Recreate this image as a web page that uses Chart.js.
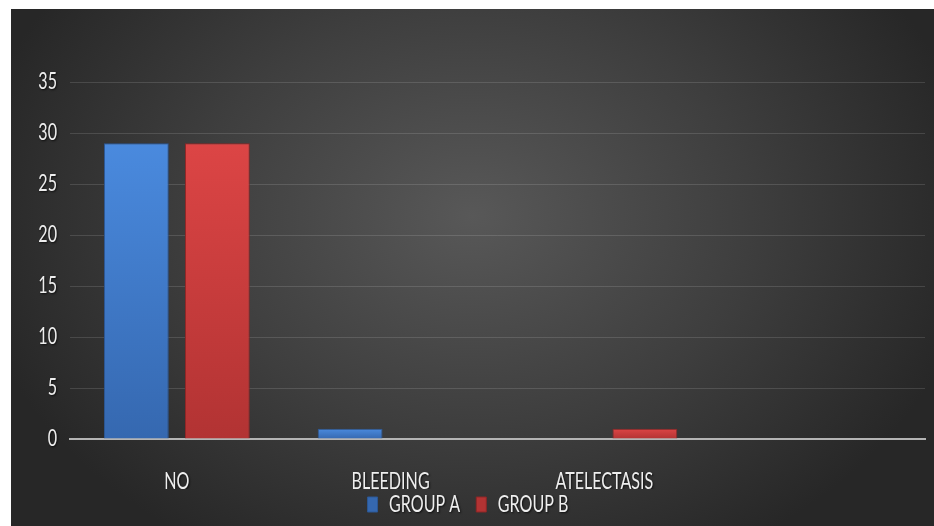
<!DOCTYPE html>
<html>
<head>
<meta charset="utf-8">
<script src="https://cdn.jsdelivr.net/npm/chart.js@4/dist/chart.umd.min.js"></script>
<style>
  html, body { margin: 0; padding: 0; background: #fff; }
  #wrap {
    position: absolute; left: 11px; top: 9px; width: 923px; height: 517px;
    background: radial-gradient(ellipse 55% 75% at 50% 40%, #585858 0%, #3e3e3e 55%, #272727 100%);
  }
  canvas { display: block; }
</style>
</head>
<body>
<div id="wrap"><canvas id="chart" width="923" height="517"></canvas></div>
<script>
const categories = ['NO', 'BLEEDING', 'ATELECTASIS', ''];
const groupA = [29, 1, 0, null];
const groupB = [29, 0, 1, null];
const yTicks = [0, 5, 10, 15, 20, 25, 30, 35];

const font = "Lato, 'Open Sans', sans-serif";
const squeeze = 0.7; // the original text is tall and narrow

const canvas = document.querySelector('#chart');
const c2d = canvas.getContext('2d');

// squeeze all text horizontally around its anchor, with a soft dark shadow
const origFill = c2d.fillText.bind(c2d);
const origMeasure = c2d.measureText.bind(c2d);
c2d.fillText = function (text, x, y, maxWidth) {
    this.save();
    this.translate(x, y);
    this.scale(squeeze, 1);
    this.shadowColor = 'rgba(0,0,0,0.7)';
    this.shadowOffsetX = 1;
    this.shadowOffsetY = 1;
    this.shadowBlur = 2;
    origFill(text, 0, 0);
    this.restore();
};
c2d.measureText = function (text) {
    const m = origMeasure(text);
    return {
        width: m.width * squeeze,
        actualBoundingBoxAscent: m.actualBoundingBoxAscent,
        actualBoundingBoxDescent: m.actualBoundingBoxDescent,
        actualBoundingBoxLeft: m.actualBoundingBoxLeft * squeeze,
        actualBoundingBoxRight: m.actualBoundingBoxRight * squeeze
    };
};

// vertical shading for each bar, from its top down to the axis
function barFill(top, bottom) {
    return ctx => {
        const chart = ctx.chart;
        if (!chart.chartArea || ctx.raw == null) return top;
        const y = chart.scales.y;
        const y0 = y.getPixelForValue(ctx.raw);
        const y1 = y.getPixelForValue(0);
        if (y1 - y0 < 1) return top;
        const g = chart.ctx.createLinearGradient(0, y0, 0, y1);
        g.addColorStop(0, top);
        g.addColorStop(1, bottom);
        return g;
    };
}

new Chart(c2d, {
    type: 'bar',
    data: {
        labels: categories,
        datasets: [
            {
                label: 'GROUP A',
                data: groupA,
                backgroundColor: barFill('#4a8ade', '#3568b0'),
                borderColor: '#2c5896',
                borderWidth: ctx => (ctx.raw ? 1 : 0),
                categoryPercentage: 0.758,
                barPercentage: 0.8
            },
            {
                label: 'GROUP B',
                data: groupB,
                backgroundColor: barFill('#dc4545', '#b23333'),
                borderColor: '#8e2626',
                borderWidth: ctx => (ctx.raw ? 1 : 0),
                categoryPercentage: 0.758,
                barPercentage: 0.8
            }
        ]
    },
    options: {
        responsive: false,
        animation: false,
        layout: { padding: { top: 73, right: 9, bottom: 0, left: 0 } },
        scales: {
            x: {
                grid: { display: false, drawTicks: false },
                border: { color: '#b4b4b4', width: 2 },
                ticks: {
                    color: '#eeeeee',
                    font: { family: font, size: 23 },
                    padding: 29,
                    maxRotation: 0
                },
                afterFit: s => { s.height = 50; }
            },
            y: {
                min: 0,
                max: 35,
                afterBuildTicks: s => { s.ticks = yTicks.map(v => ({ value: v })); },
                grid: { color: 'rgba(255,255,255,0.13)', lineWidth: 1, drawTicks: false },
                border: { display: false },
                ticks: {
                    color: '#eeeeee',
                    font: { family: font, size: 23 },
                    padding: 13
                },
                afterFit: s => { s.width = 59; }
            }
        },
        plugins: {
            legend: {
                position: 'bottom',
                labels: {
                    color: '#eeeeee',
                    font: { family: font, size: 23 },
                    boxWidth: 10,
                    boxHeight: 15,
                    padding: 4,
                    // a wider gap after the first entry, as in the original
                    generateLabels: chart => {
                        const items = Chart.defaults.plugins.legend.labels.generateLabels(chart);
                        items[0].text = items[0].text + '\u2003';
                        return items;
                    }
                }
            },
            tooltip: { enabled: false }
        }
    }
});
</script>
</body>
</html>
